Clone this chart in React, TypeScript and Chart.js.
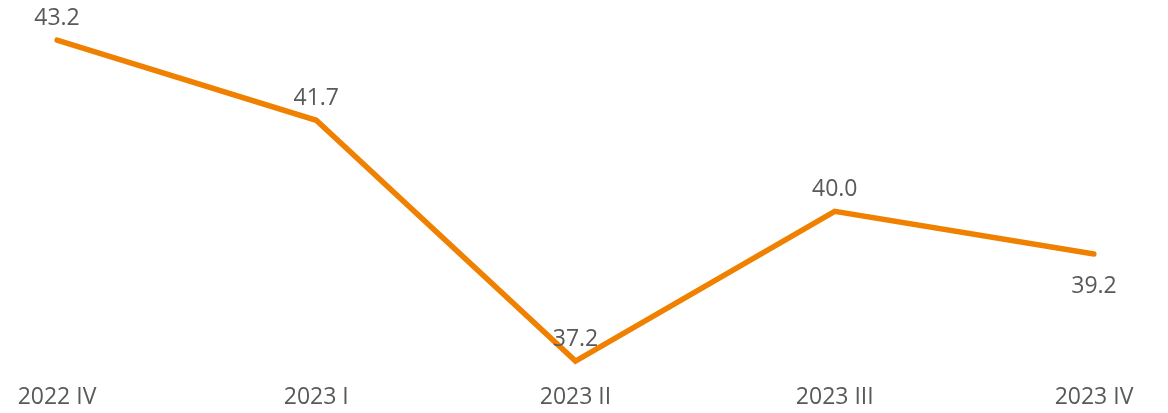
import React, { useEffect, useRef } from "react";
import { Chart, registerables } from "chart.js";

Chart.register(...registerables);

const categories = ["2022 IV", "2023 I", "2023 II", "2023 III", "2023 IV"];
const values = [43.2, 41.7, 37.2, 40.0, 39.2];
const labelBelow = [false, false, false, false, true];

const LINE_COLOR = "#F08100";
const TEXT_COLOR = "#595959";
const FONT = "23px 'Open Sans', sans-serif";

const labelsPlugin = {
  id: "customLabels",
  afterDatasetsDraw(chart: any) {
    const ctx = chart.ctx;
    const xs = chart.scales.x;
    const ys = chart.scales.y;
    ctx.save();
    ctx.font = FONT;
    ctx.fillStyle = TEXT_COLOR;
    ctx.textAlign = "center";
    ctx.textBaseline = "alphabetic";
    values.forEach((v, i) => {
      const x = xs.getPixelForValue(i);
      const y = ys.getPixelForValue(v);
      const dy = labelBelow[i] ? 39 : -15;
      ctx.fillText(v.toFixed(1), x, y + dy);
    });
    categories.forEach((c, i) => {
      const x = xs.getPixelForValue(i);
      ctx.fillText(c, x, 404);
    });
    ctx.restore();
  },
};

export default function App() {
  const ref = useRef<HTMLCanvasElement>(null);
  useEffect(() => {
    if (!ref.current) return;
    const chart = new Chart(ref.current, {
      type: "line",
      data: {
        labels: categories,
        datasets: [
          {
            data: values,
            borderColor: LINE_COLOR,
            borderWidth: 5.5,
            borderCapStyle: "round",
            borderJoinStyle: "miter",
            pointRadius: 0,
            tension: 0,
            fill: false,
          },
        ],
      },
      options: {
        animation: false,
        responsive: false,
        maintainAspectRatio: false,
        layout: { padding: { left: 57, right: 74, top: 24, bottom: 14.5 } },
        plugins: { legend: { display: false }, tooltip: { enabled: false } },
        scales: {
          x: { display: false, offset: false },
          y: { display: false, min: 36.5, max: 43.5 },
        },
      },
      plugins: [labelsPlugin],
    });
    return () => chart.destroy();
  }, []);
  return (
    <div style={{ position: "fixed", left: 0, top: 0, width: 1168, height: 413, background: "#fff" }}>
      <canvas ref={ref} width={1168} height={413} style={{ width: 1168, height: 413 }} />
    </div>
  );
}
